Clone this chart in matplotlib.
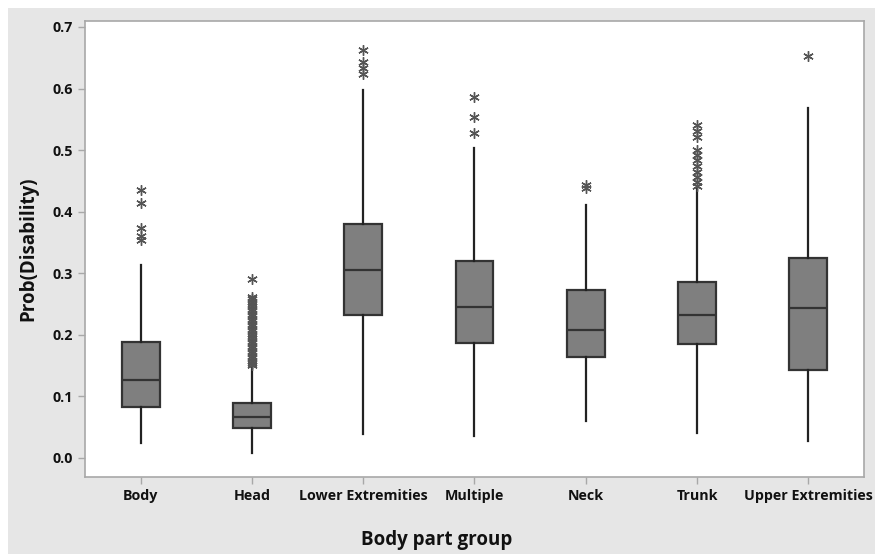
import matplotlib.pyplot as plt
from matplotlib.patches import Rectangle

plt.rcParams['font.family'] = ['Open Sans', 'DejaVu Sans']

groups = ['Body', 'Head', 'Lower Extremities', 'Multiple', 'Neck', 'Trunk', 'Upper Extremities']
whisk_lo = [0.024, 0.008, 0.039, 0.036, 0.060, 0.040, 0.027]
q1 = [0.083, 0.049, 0.232, 0.187, 0.164, 0.185, 0.142]
med = [0.127, 0.067, 0.305, 0.245, 0.208, 0.232, 0.243]
q3 = [0.188, 0.090, 0.380, 0.320, 0.272, 0.286, 0.325]
whisk_hi = [0.313, 0.148, 0.597, 0.503, 0.411, 0.438, 0.568]
outliers = [
    [0.435, 0.414, 0.373, 0.360, 0.354],
    [0.290, 0.262, 0.258, 0.254, 0.250, 0.246, 0.242, 0.238, 0.234, 0.230, 0.226,
     0.222, 0.218, 0.214, 0.210, 0.206, 0.202, 0.198, 0.194, 0.190, 0.186, 0.182,
     0.178, 0.174, 0.170, 0.166, 0.162, 0.158, 0.154, 0.151],
    [0.663, 0.643, 0.633, 0.623],
    [0.586, 0.553, 0.528],
    [0.443, 0.438],
    [0.540, 0.531, 0.521, 0.500, 0.492, 0.484, 0.474, 0.465, 0.456, 0.448, 0.441],
    [0.653],
]

stats = []
for i in range(len(groups)):
    stats.append({'label': groups[i], 'whislo': whisk_lo[i], 'q1': q1[i], 'med': med[i],
                  'q3': q3[i], 'whishi': whisk_hi[i], 'fliers': outliers[i]})

fig = plt.figure(figsize=(8.75, 5.54), dpi=100, facecolor='white')
fig.patches.append(Rectangle((8 / 875, 0), 1, 1 - 8 / 554, transform=fig.transFigure,
                             facecolor='#e6e6e6', edgecolor='none', zorder=-10))

ax = fig.add_axes([85 / 875, 1 - 477 / 554, (864 - 85) / 875, (477 - 21) / 554])
ax.set_facecolor('white')

ax.bxp(stats, positions=range(1, 8), widths=0.34, patch_artist=True, showcaps=False,
       boxprops=dict(facecolor='#7f7f7f', edgecolor='#333333', linewidth=1.6),
       medianprops=dict(color='#333333', linewidth=1.6),
       whiskerprops=dict(color='#222222', linewidth=1.6),
       flierprops=dict(marker=(6, 2, 0), markersize=7.5, markeredgecolor='#555555',
                       markerfacecolor='none', markeredgewidth=1.0, linestyle='none'))

ax.set_xlim(0.5, 7.5)
ax.set_ylim(-0.031, 0.7097)
ax.set_yticks([0.0, 0.1, 0.2, 0.3, 0.4, 0.5, 0.6, 0.7])
ax.set_yticklabels(['0.0', '0.1', '0.2', '0.3', '0.4', '0.5', '0.6', '0.7'])
ax.set_xticks(range(1, 8))
ax.set_xticklabels(groups)

for s in ax.spines.values():
    s.set_color('#a8a8a8')
    s.set_linewidth(1.2)
ax.tick_params(axis='both', color='#a8a8a8', length=5, width=1, direction='out')
for lab in ax.get_xticklabels() + ax.get_yticklabels():
    lab.set_fontsize(10.3)
    lab.set_fontweight('bold')
    lab.set_color('#111111')

fig.text(437 / 875, 1 - 540 / 554, 'Body part group', ha='center', va='center',
         fontsize=13.5, fontweight='bold', color='#111111')
fig.text(28 / 875, 1 - 249 / 554, 'Prob(Disability)', ha='center', va='center',
         rotation=90, fontsize=13.5, fontweight='bold', color='#111111')

fig.savefig('out.png', dpi=100, facecolor=fig.get_facecolor())
